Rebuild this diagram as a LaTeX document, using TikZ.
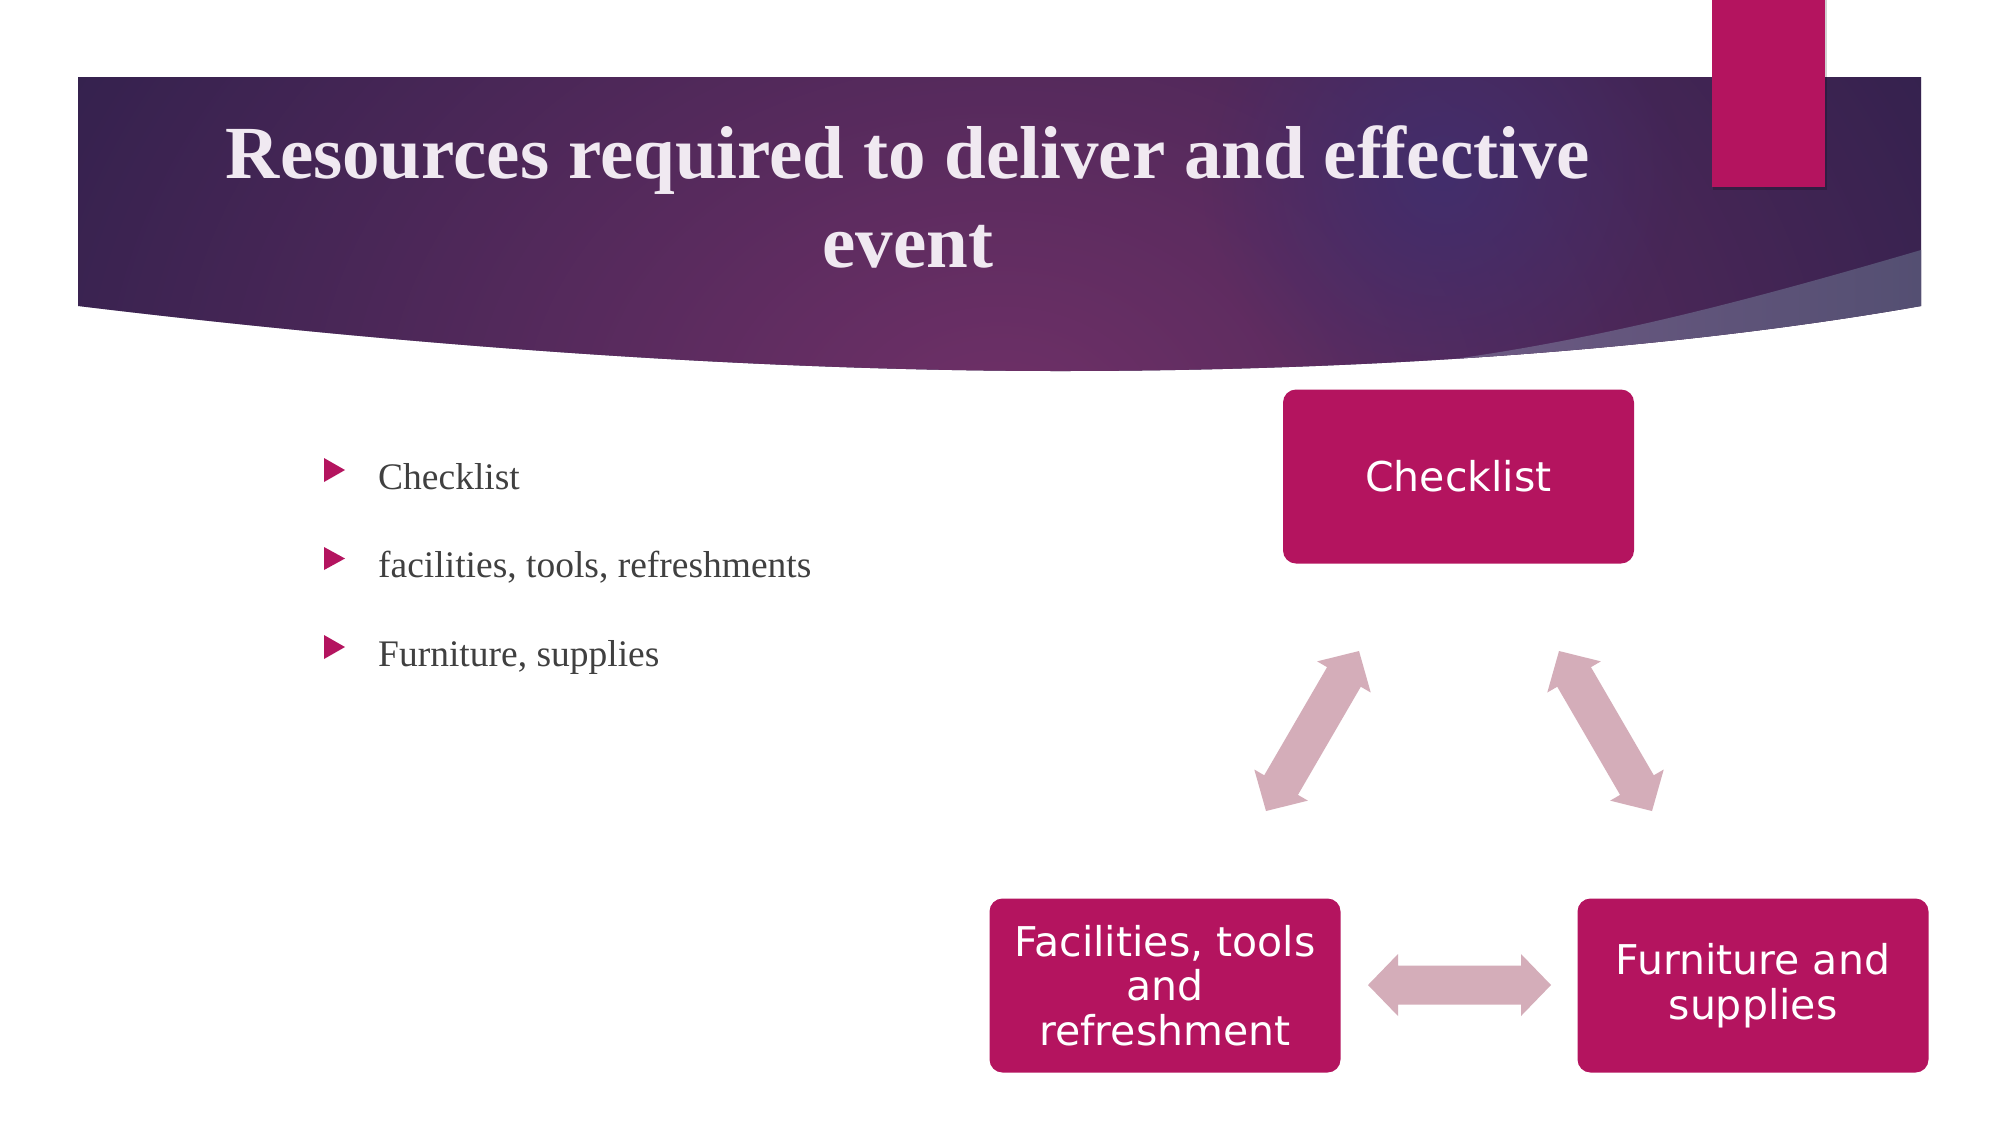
\documentclass[tikz,border=0pt]{standalone}
\usepackage{fontspec}
\setmainfont{Liberation Serif}
\newfontfamily\boxfont{DejaVu Sans}
\usetikzlibrary{calc,fadings}
\tikzfading[name=myglow, inner color=transparent!0, outer color=transparent!100]
\definecolor{bandark}{RGB}{38,30,72}
\definecolor{bandglow}{RGB}{112,49,104}
\definecolor{bandspot}{RGB}{66,46,108}
\definecolor{sliverL}{RGB}{110,90,132}
\definecolor{sliverR}{RGB}{84,79,114}
\definecolor{magbox}{RGB}{180,20,95}
\definecolor{titlecol}{RGB}{240,233,241}
\definecolor{bodytext}{RGB}{64,64,64}
\definecolor{arrowcol}{RGB}{212,173,185}
\tikzset{
  box/.style={fill=magbox, rounded corners=13pt, inner sep=0pt,
    minimum width=351pt, minimum height=174pt, text=white, align=center,
    font=\boxfont\fontsize{41}{44.5}\selectfont},
  titletext/.style={text=titlecol, anchor=base, inner sep=0pt,
    font=\bfseries\fontsize{75}{89}\selectfont},
  bullettext/.style={text=bodytext, anchor=base west, inner sep=0pt,
    font=\fontsize{37.5}{43}\selectfont},
  bulletmark/.style={fill=magbox},
  arrowfill/.style={fill=arrowcol}
}
\newcommand\myDoubleArrow[2]{%
  \coordinate (ha) at ($(#1)!30pt!(#2)$);
  \coordinate (hb) at ($(#2)!30pt!(#1)$);
  \fill[arrowfill] (#1) -- ($(ha)!31pt!90:(#2)$) -- ($(ha)!19.5pt!90:(#2)$)
    -- ($(hb)!19.5pt!-90:(#1)$) -- ($(hb)!31pt!-90:(#1)$) -- (#2)
    -- ($(hb)!31pt!90:(#1)$) -- ($(hb)!19.5pt!90:(#1)$)
    -- ($(ha)!19.5pt!-90:(#2)$) -- ($(ha)!31pt!-90:(#2)$) -- cycle;}
\begin{document}
\begin{tikzpicture}[x=1pt,y=-1pt]
\useasboundingbox (0,0) rectangle (2001,1125);
\fill[white] (0,0) rectangle (2001,1125);
% banner
\begin{scope}
  \clip (78,77) -- (1921,77) -- (1921,306)
    .. controls (1700,345) and (1400,371) .. (1060,371)
    .. controls (750,371) and (400,345) .. (78,306) -- cycle;
  \fill[bandark] (0,0) rectangle (2001,400);
  \fill[bandglow, path fading=myglow] (1000,430) ellipse (1300 and 1000);
  \fill[bandspot, path fading=myglow] (1442,175) circle (240);
  \shade[left color=sliverL, right color=sliverR]
    (1432,362) -- (1432,420) -- (1921,420) -- (1921,250)
    .. controls (1750,300) and (1600,340) .. (1432,362) -- cycle;
\end{scope}
% tab
\fill[black, opacity=0.18] (1713,0) rectangle (1827,190);
\fill[magbox] (1712,0) rectangle (1825,187);
% title
\node[titletext] (title1) at (908,178) {Resources required to deliver and effective};
\node[titletext] (title2) at (908,267) {event};
% bullets
\fill[bulletmark] (324,458) -- (345,470) -- (324,482) -- cycle;
\fill[bulletmark] (324,547) -- (345,558.5) -- (324,570) -- cycle;
\fill[bulletmark] (324,635) -- (345,647) -- (324,659) -- cycle;
\node[bullettext] (b1) at (378,489) {Checklist};
\node[bullettext] (b2) at (378,577) {facilities, tools, refreshments};
\node[bullettext] (b3) at (378,666) {Furniture, supplies};
% boxes
\node[box] (chk) at (1458.5,476.5) {Checklist};
\node[box] (fac) at (1165,985.5) {Facilities, tools\\and\\refreshment};
\node[box] (fur) at (1753,985.5) {Furniture and\\supplies};
% arrows
\coordinate (a1s) at (1266,811);
\coordinate (a1e) at (1359,651);
\coordinate (a2s) at (1559,651);
\coordinate (a2e) at (1652,811);
\coordinate (a3s) at (1368,985);
\coordinate (a3e) at (1551,985);
\myDoubleArrow{a1s}{a1e}
\myDoubleArrow{a2s}{a2e}
\myDoubleArrow{a3s}{a3e}
\end{tikzpicture}
\end{document}
